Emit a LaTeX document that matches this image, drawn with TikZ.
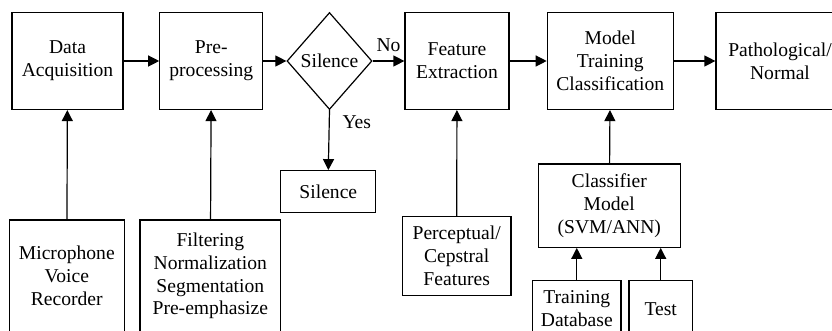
\documentclass[tikz,border=0pt]{standalone}
\usepackage{fontspec}
\setmainfont{Liberation Serif}
\usepackage{tikz}
\usetikzlibrary{shapes.geometric,arrows.meta,positioning}

\begin{document}
\begin{tikzpicture}[
  x=0.5pt, y=-0.5pt,
  every node/.style={font=\fontsize{9.8}{11.4}\selectfont},
  block/.style={draw, line width=0.6pt, align=center, inner sep=1pt},
  decision/.style={draw, diamond, line width=0.6pt, align=center,
                   inner sep=0pt, minimum width=42.5pt, minimum height=48.5pt},
  arrow/.style={-{Triangle[length=5.5pt, width=5.5pt]}, line width=0.6pt},
]
\useasboundingbox (0,0) rectangle (832,331);
\clip (0,0) rectangle (832,331);
% top row
\node[block, minimum width=55.5pt, minimum height=48.5pt] (acq) at (67.5,61) {Data\\Acquisition};
\node[block, minimum width=51.5pt, minimum height=48.5pt] (prep) at (211.3,61) {Pre-\\processing};
\node[decision] (sil) at (329.5,61) {Silence};
\node[block, minimum width=52pt, minimum height=48.5pt] (feat) at (457,61) {Feature\\Extraction};
\node[block, minimum width=63pt, minimum height=48.5pt] (model) at (610.3,61) {Model\\Training\\Classification};
\node[block, minimum width=64pt, minimum height=48.5pt] (result) at (780,61) {Pathological/\\Normal};
% lower row
\node[block, minimum width=47.5pt, minimum height=21pt] (silbox) at (328.3,191.7) {Silence};
\node[block, minimum width=57.5pt, minimum height=56pt] (mic) at (66.8,276) {Microphone\\Voice\\Recorder};
\node[block, minimum width=70.3pt, minimum height=56pt] (filt) at (210.3,276) {Filtering\\Normalization\\Segmentation\\Pre-emphasize};
\node[block, minimum width=54.3pt, minimum height=39.2pt] (percep) at (456.7,256) {Perceptual/\\Cepstral\\Features};
\node[block, minimum width=71pt, minimum height=41.6pt] (clf) at (609.3,205.7) {Classifier\\Model\\(SVM/ANN)};
\node[block, minimum width=44.2pt, minimum height=28.4pt] (train) at (576.8,309) {Training\\Database};
\node[block, minimum width=31.7pt, minimum height=28.4pt] (test) at (660.7,309) {Test};
% arrows
\draw[arrow] (acq) -- (prep);
\draw[arrow] (prep) -- (sil);
\draw[arrow] (sil) -- (feat) node[pos=0.5, above=1pt] {No};
\draw[arrow] (sil.south) -- (silbox.north) node[pos=0.2, right=3pt] {Yes};
\draw[arrow] (feat) -- (model);
\draw[arrow] (model) -- (result);
\draw[arrow] (mic) -- (acq);
\draw[arrow] (filt) -- (prep);
\draw[arrow] (percep) -- (feat);
\draw[arrow] (clf) -- (model);
\draw[arrow] (train.north) -- (train.north |- clf.south);
\draw[arrow] (test.north) -- (test.north |- clf.south);
\end{tikzpicture}
\end{document}
